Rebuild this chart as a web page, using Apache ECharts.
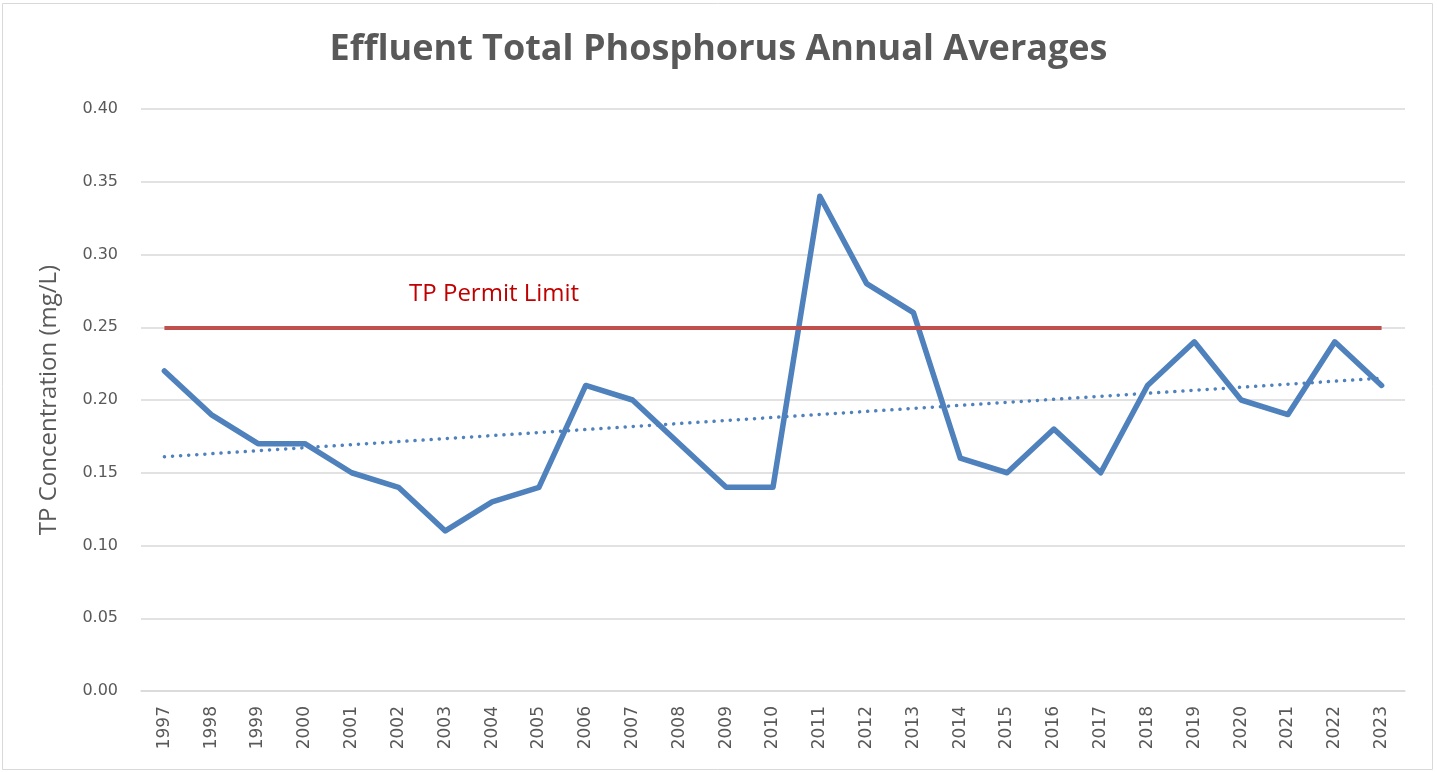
<!DOCTYPE html>
<html>
<head>
<meta charset="utf-8">
<script src="https://cdn.jsdelivr.net/npm/echarts@6/dist/echarts.min.js"></script>
<style>html,body{margin:0;padding:0;background:#fff}#c{width:1437px;height:772px}</style>
</head>
<body>
<div id="c"></div>
<script>
const years = ['1997','1998','1999','2000','2001','2002','2003','2004','2005','2006','2007','2008','2009','2010','2011','2012','2013','2014','2015','2016','2017','2018','2019','2020','2021','2022','2023'];
const tpValues = [0.22,0.19,0.17,0.17,0.15,0.14,0.11,0.13,0.14,0.21,0.20,0.17,0.14,0.14,0.34,0.28,0.26,0.16,0.15,0.18,0.15,0.21,0.24,0.20,0.19,0.24,0.21];
const trendEnds = [0.161, 0.215];
const permitLimit = 0.25;

const chart = echarts.init(document.getElementById('c'));
chart.setOption({
  animation: false,
  title: {
    text: 'Effluent Total Phosphorus Annual Averages',
    left: 'center', top: 27,
    textStyle: {fontFamily: 'Open Sans', fontSize: 36, fontWeight: 'bold', color: '#595959'}
  },
  graphic: [{type: 'rect', shape: {x: 2.5, y: 3.5, width: 1430, height: 766}, style: {fill: 'none', stroke: '#d9d9d9', lineWidth: 1}}],
  grid: {left: 141, right: 32, top: 109, bottom: 81},
  xAxis: {
    type: 'category', data: years, boundaryGap: true,
    axisLine: {lineStyle: {color: '#d9d9d9', width: 1.5}},
    axisTick: {show: false},
    axisLabel: {rotate: 90, margin: 15, fontFamily: "'Liberation Sans Narrow', 'DejaVu Sans'", fontSize: 17, color: '#595959'}
  },
  yAxis: {
    type: 'value', min: 0, max: 0.40, interval: 0.05,
    name: 'TP Concentration (mg/L)', nameLocation: 'middle', nameGap: 80,
    nameTextStyle: {fontFamily: 'Open Sans', fontSize: 24, color: '#595959'},
    axisLine: {show: false}, axisTick: {show: false},
    axisLabel: {margin: 23, fontFamily: 'DejaVu Sans', fontSize: 16, color: '#595959', formatter: v => v.toFixed(2)},
    splitLine: {lineStyle: {color: '#d9d9d9', width: 1.5}}
  },
  series: [
    {
      type: 'line', data: tpValues, symbol: 'none', z: 3,
      lineStyle: {color: '#4f81bd', width: 5.5, cap: 'round', join: 'round'},
      markLine: {
        silent: true, symbol: 'none', label: {show: false},
        lineStyle: {color: '#c0504d', width: 4, type: 'solid'},
        data: [[{coord: [years[0], permitLimit]}, {coord: [years[years.length-1], permitLimit]}]]
      },
      markPoint: {
        symbol: 'circle', symbolSize: 0, silent: true,
        label: {show: true, formatter: 'TP Permit Limit', offset: [2, -33], fontFamily: 'Open Sans', fontSize: 24, color: '#c00000'},
        data: [{coord: ['2004', permitLimit]}]
      }
    },
    {
      type: 'line', symbol: 'none', z: 2,
      data: [[years[0], trendEnds[0]], [years[years.length-1], trendEnds[1]]],
      lineStyle: {color: '#4f81bd', width: 3.5, type: [0.1, 8], cap: 'round'}
    }
  ]
});
</script>
</body>
</html>
